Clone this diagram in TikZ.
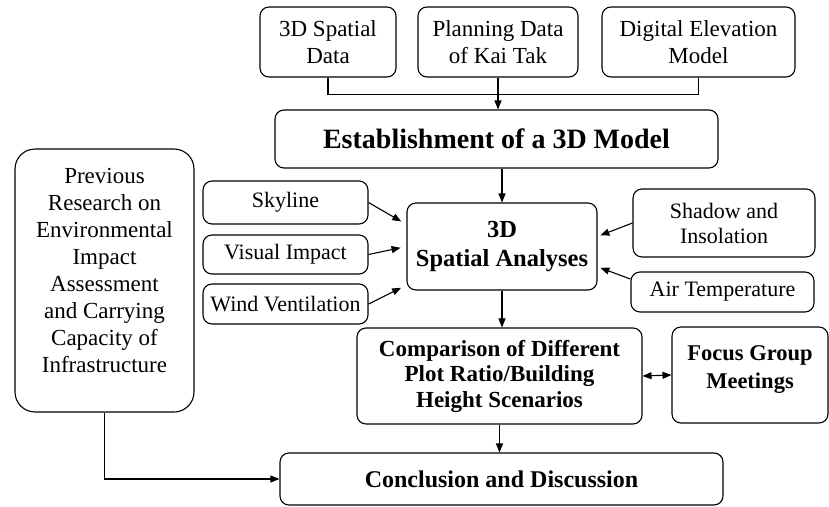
\documentclass[tikz,border=0pt]{standalone}
\usepackage{fontspec}
\setmainfont{Liberation Serif}
\usetikzlibrary{arrows.meta}

\begin{document}
\begin{tikzpicture}[x=1pt, y=-1pt, line width=1.1pt, >={Triangle[length=9pt, width=7pt]},
    box/.style={draw, rounded corners=9pt, align=center, inner sep=0pt},
    src/.style={box, font=\fontsize{23}{26.5}\selectfont},
    side/.style={box, font=\fontsize{22}{25}\selectfont},
    main/.style={box, font=\bfseries\fontsize{24}{27}\selectfont}]
    \useasboundingbox (0,0) rectangle (829,506);

    % input data
    \node[src, minimum width=136pt, minimum height=70pt] (spatial) at (328,42) {3D Spatial\\Data};
    \node[src, minimum width=160pt, minimum height=70pt] (kaitak)  at (498,42) {Planning Data\\of Kai Tak};
    \node[src, minimum width=193pt, minimum height=70pt] (dem)     at (698.5,42) {Digital Elevation\\Model};

    \node[main, minimum width=443pt, minimum height=58pt, font=\bfseries\fontsize{28}{32}\selectfont] (model) at (496.5,139) {Establishment of a 3D Model};

    \node[src, rounded corners=20pt, minimum width=179pt, minimum height=263pt,
          font=\fontsize{23}{27.1}\selectfont, text depth=20pt] (prev) at (104.5,280.5)
        {Previous\\Research on\\Environmental\\Impact\\Assessment\\and Carrying\\Capacity of\\Infrastructure};

    % analyses
    \node[side, minimum width=165pt, minimum height=43pt] (skyline) at (285.5,202.5) {Skyline};
    \node[side, minimum width=165pt, minimum height=39pt] (visual)  at (285.5,254.5) {Visual Impact};
    \node[side, minimum width=165pt, minimum height=40pt] (wind)    at (285.5,304) {Wind Ventilation};
    \node[main, minimum width=190pt, minimum height=87pt, font=\bfseries\fontsize{24.5}{29}\selectfont] (analyses) at (502,246.5) {3D\\Spatial Analyses};
    \node[side, minimum width=182pt, minimum height=68pt] (shadow)  at (724,223) {Shadow and\\Insolation};
    \node[side, minimum width=183pt, minimum height=40pt] (airtemp) at (722.5,292) {Air Temperature};

    % scenarios and outcome
    \node[main, minimum width=285pt, minimum height=96pt, font=\bfseries\fontsize{23}{25.5}\selectfont] (compare) at (499.5,376)
        {Comparison of Different\\Plot Ratio/Building\\Height Scenarios};
    \node[main, minimum width=156pt, minimum height=96pt, font=\bfseries\fontsize{22.5}{28}\selectfont,
          text depth=15pt] (focus) at (750,375)
        {Focus Group\\Meetings};
    \node[main, minimum width=443pt, minimum height=52pt] (concl) at (501.5,479) {Conclusion and Discussion};

    \draw (spatial.south) -- ++(0,17) -| (dem.south);
    \draw[->] (kaitak.south) -- (kaitak.south |- model.north);
    \draw[->] (model.south -| analyses.north) -- (analyses.north);

    \path[->, shorten >=6pt]
    (skyline.east) edge (analyses.167)
    (visual.east)  edge (analyses.west)
    (wind.east)    edge (analyses.202);

    \path[->, shorten >=3pt]
    (shadow.west)  edge (analyses.6)
    (airtemp.172)  edge (analyses.-12);

    \draw[->] (analyses.south) -- (analyses.south |- compare.north);
    \draw[<->] (compare.east) -- (focus.west);
    \draw[->] (compare.south) -- (compare.south |- concl.north);
    \draw[->] (prev.south) |- (concl.west);

\end{tikzpicture}
\end{document}
